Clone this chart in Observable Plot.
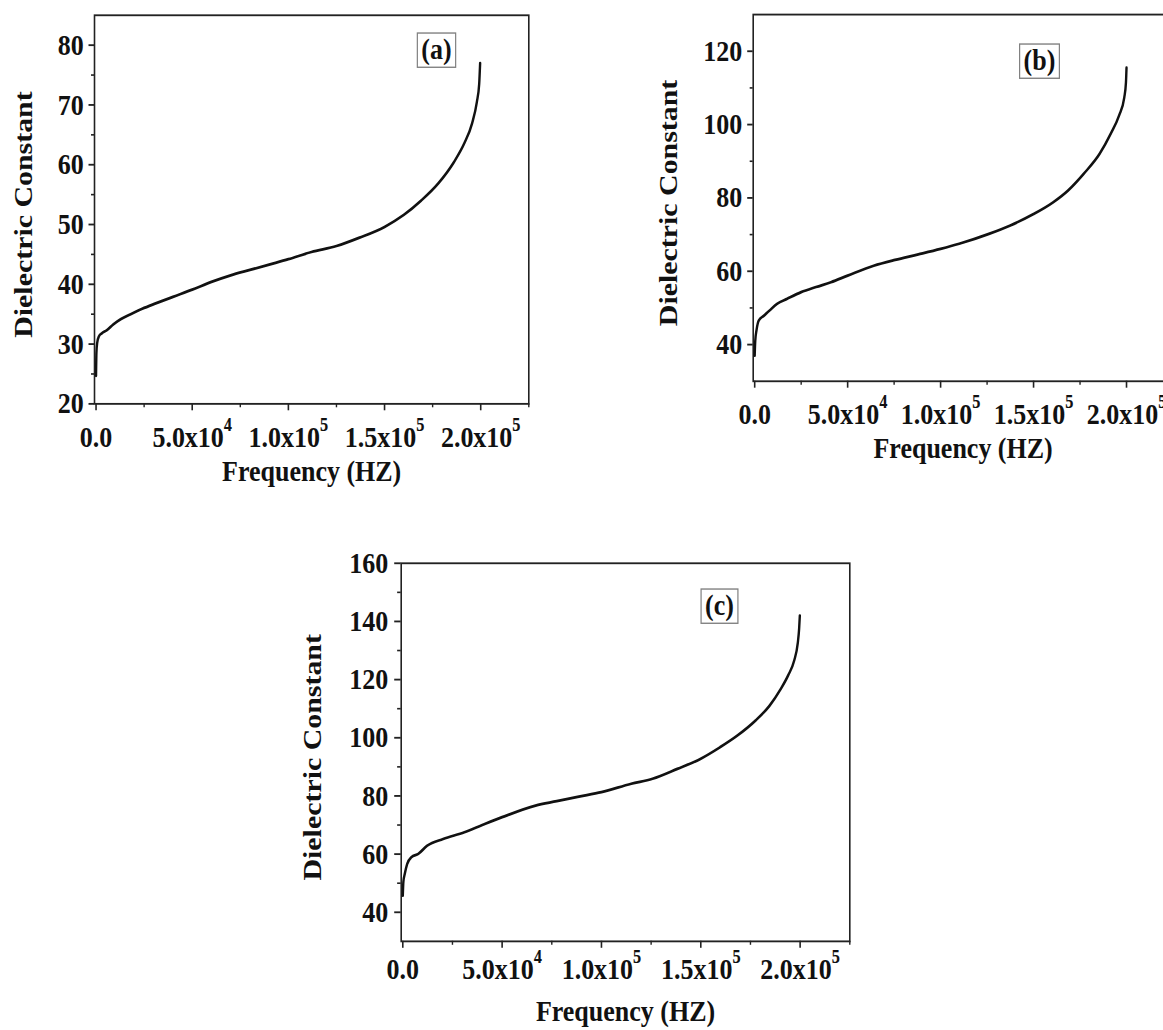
<!DOCTYPE html>
<html>
<head>
<meta charset="utf-8">
<script src="https://cdn.jsdelivr.net/npm/d3@7"></script>
<script src="https://cdn.jsdelivr.net/npm/@observablehq/plot@0.6"></script>
<style>
  html, body { margin: 0; padding: 0; background: #fff; overflow: hidden; }
  #root { position: relative; width: 1163px; height: 1030px; overflow: hidden; background: #fff; }
  .panel { position: absolute; }
</style>
</head>
<body>
<div id="root"></div>
<script>
// ---------- data ----------
const freqA = [0, 200, 600, 1500, 3000, 5500, 9000, 13000, 18000, 24000, 31000, 40000, 50000, 60000, 70000, 80000, 90000, 100000, 112000, 125000, 137000, 150000, 160000, 169000, 178000, 186000, 191500, 195500, 198000, 199200, 199700];
const epsA  = [24.7, 28.5, 30.2, 31.3, 31.8, 32.3, 33.3, 34.2, 35.0, 35.9, 36.8, 37.9, 39.1, 40.4, 41.5, 42.4, 43.3, 44.2, 45.4, 46.4, 47.8, 49.6, 51.6, 54.0, 56.9, 60.4, 63.6, 66.9, 70.5, 73.5, 77.0];

const freqB = [0, 300, 1000, 2200, 5000, 8000, 12000, 17500, 25000, 33000, 41000, 50000, 64000, 75500, 88000, 100000, 110000, 126000, 137500, 150000, 160500, 168500, 177000, 185500, 191500, 196000, 198800, 199700, 200000];
const epsB  = [37.0, 41.0, 44.0, 46.6, 47.9, 49.3, 51.1, 52.5, 54.3, 55.7, 57.0, 58.8, 61.5, 63.1, 64.6, 66.1, 67.5, 70.2, 72.5, 75.6, 78.8, 82.0, 86.6, 92.0, 97.5, 102.5, 107.4, 111.5, 115.5];

const freqC = [0, 300, 1000, 2200, 4300, 7800, 12300, 20300, 31000, 40000, 50000, 66800, 77500, 88000, 100000, 115000, 125700, 138200, 150000, 159600, 168500, 177500, 184600, 190000, 194000, 197000, 198800, 199500, 199850];
const epsC  = [45.7, 50.5, 53.2, 56.6, 58.9, 60.1, 62.9, 65.2, 67.5, 70.0, 72.7, 76.7, 78.2, 79.7, 81.3, 84.2, 85.9, 89.3, 92.8, 96.7, 100.8, 105.9, 111.0, 116.5, 121.5, 126.5, 132.5, 137.5, 142.0];

const xTicks = [0, 50000, 100000, 150000, 200000];
const xTickLabels = ["0.0", "5.0x10\u2074", "1.0x10\u2075", "1.5x10\u2075", "2.0x10\u2075"];
const xMinorTicks = [25000, 75000, 125000, 175000, 225000];
const xDomain = [-800, 225000];

const yTicksA = [20, 30, 40, 50, 60, 70, 80];
const yMinorA = [25, 35, 45, 55, 65, 75];
const yDomainA = [20, 85];

const yTicksB = [40, 60, 80, 100, 120];
const yMinorB = [50, 70, 90, 110];
const yDomainB = [30, 130];

const yTicksC = [40, 60, 80, 100, 120, 140, 160];
const yMinorC = [50, 70, 90, 110, 130, 150];
const yDomainC = [30, 160];

const panelTags = ["(a)", "(b)", "(c)"];
const xTitle = "Frequency (HZ)";
const yTitle = "Dielectric Constant";

// ---------- drawing ----------
const S = 1.15; // vertical stretch of the original figure
const FONT = "'Liberation Serif', 'Times New Roman', Times, serif";
const INK = "#111";
const AXIS = "#222";
const SVGNS = "http://www.w3.org/2000/svg";

function rows(f, e) { return f.map((v, i) => ({f: v, e: e[i]})); }

function makePanel(c) {
  const mT = (c.frame.t - c.top) / S;
  const mB = (c.top + c.height - c.frame.b) / S;
  const mL = c.frame.l - c.left;
  const mR = c.left + c.width - c.frame.r;
  const gap = c.xGap / S;
  const svg = Plot.plot({
    width: c.width,
    height: c.height / S,
    marginTop: mT, marginBottom: mB, marginLeft: mL, marginRight: mR,
    x: {domain: xDomain},
    y: {domain: c.yDomain},
    style: {
      fontFamily: FONT, fontSize: "26px", fontWeight: "bold", color: INK,
      background: "transparent", maxWidth: "none", overflow: "visible",
      transform: `scaleY(${S})`, transformOrigin: "0 0"
    },
    marks: [
      Plot.frame({stroke: AXIS, strokeWidth: 1.6}),
      Plot.axisX(xTicks, {tickSize: 7 / S, tickPadding: gap - 7 / S, stroke: AXIS, strokeWidth: 1.6, fill: INK,
        tickFormat: d => xTickLabels[xTicks.indexOf(d)], label: null}),
      Plot.axisX(xMinorTicks, {tickSize: 4 / S, stroke: AXIS, strokeWidth: 1.4, tickFormat: () => "", label: null}),
      Plot.axisY(c.yTicks, {tickSize: c.yTick, tickPadding: c.yGap - c.yTick, stroke: AXIS, strokeWidth: 1.6, fill: INK, label: null}),
      Plot.axisY(c.yMinor, {tickSize: c.yTick * 0.55, stroke: AXIS, strokeWidth: 1.4, tickFormat: () => "", label: null}),
      Plot.line(rows(c.f, c.e), {x: "f", y: "e", curve: "monotone-x", stroke: INK, strokeWidth: 2.4}),
      Plot.text([xTitle], {text: d => d, frameAnchor: "bottom", textAnchor: "middle", lineAnchor: "middle",
        dy: (c.xTitleY - c.frame.b) / S, fill: INK}),
      Plot.text([yTitle], {text: d => d, frameAnchor: "left", textAnchor: "middle", lineAnchor: "middle",
        rotate: -90, dx: c.yTitleX - c.frame.l, dy: 5 / S, fill: INK}),
      Plot.text([c.tag], {text: d => d, frameAnchor: "top-right", textAnchor: "middle", lineAnchor: "middle",
        dx: c.tagX - c.frame.r, dy: (c.tagY - c.frame.t) / S, fill: INK})
    ]
  });
  const div = document.createElement("div");
  div.className = "panel";
  div.style.left = c.left + "px";
  div.style.top = c.top + "px";
  div.appendChild(svg);
  document.getElementById("root").appendChild(div);

  for (const t of Array.from(svg.querySelectorAll("text"))) {
    const s = t.textContent;
    // raise the exponent like a true superscript
    const m = s.match(/^(.*x10)([\u2074\u2075])$/);
    if (m) {
      t.textContent = "";
      t.appendChild(document.createTextNode(m[1]));
      const sup = document.createElementNS(SVGNS, "tspan");
      sup.setAttribute("dy", "-0.22em");
      sup.setAttribute("font-size", "1.05em");
      sup.textContent = m[2];
      t.appendChild(sup);
    }
    // box around the panel tag
    if (s === c.tag) {
      const bb = t.getBBox();
      const r = document.createElementNS(SVGNS, "rect");
      r.setAttribute("x", bb.x - 4);
      r.setAttribute("y", bb.y + 0.5);
      r.setAttribute("width", bb.width + 8);
      r.setAttribute("height", bb.height + 1);
      r.setAttribute("fill", "none");
      r.setAttribute("stroke", "#808080");
      r.setAttribute("stroke-width", 1.2);
      const tr = t.getAttribute("transform");
      if (tr) r.setAttribute("transform", tr);
      t.parentNode.insertBefore(r, t);
    }
  }
}

makePanel({
  left: 0, top: 0, width: 560, height: 490,
  frame: {l: 94, r: 528.3, t: 14.7, b: 403.3},
  yDomain: yDomainA, yTicks: yTicksA, yMinor: yMinorA,
  f: freqA, e: epsA, tag: panelTags[0],
  xGap: 21.7, yTick: 5.5, yGap: 10.7,
  xTitleY: 471, yTitleX: 23, tagX: 436, tagY: 49
});

makePanel({
  left: 640, top: 0, width: 545, height: 470,
  frame: {l: 752.7, r: 1172.5, t: 14, b: 380.7},
  yDomain: yDomainB, yTicks: yTicksB, yMinor: yMinorB,
  f: freqB, e: epsB, tag: panelTags[1],
  xGap: 21, yTick: 5.5, yGap: 11,
  xTitleY: 448, yTitleX: 668, tagX: 1039, tagY: 60
});

makePanel({
  left: 280, top: 520, width: 590, height: 510,
  frame: {l: 400.7, r: 849.3, t: 562.7, b: 940.8},
  yDomain: yDomainC, yTicks: yTicksC, yMinor: yMinorC,
  f: freqC, e: epsC, tag: panelTags[2],
  xGap: 16, yTick: 6.5, yGap: 13,
  xTitleY: 1011, yTitleX: 312, tagX: 719, tagY: 605
});
</script>
</body>
</html>
